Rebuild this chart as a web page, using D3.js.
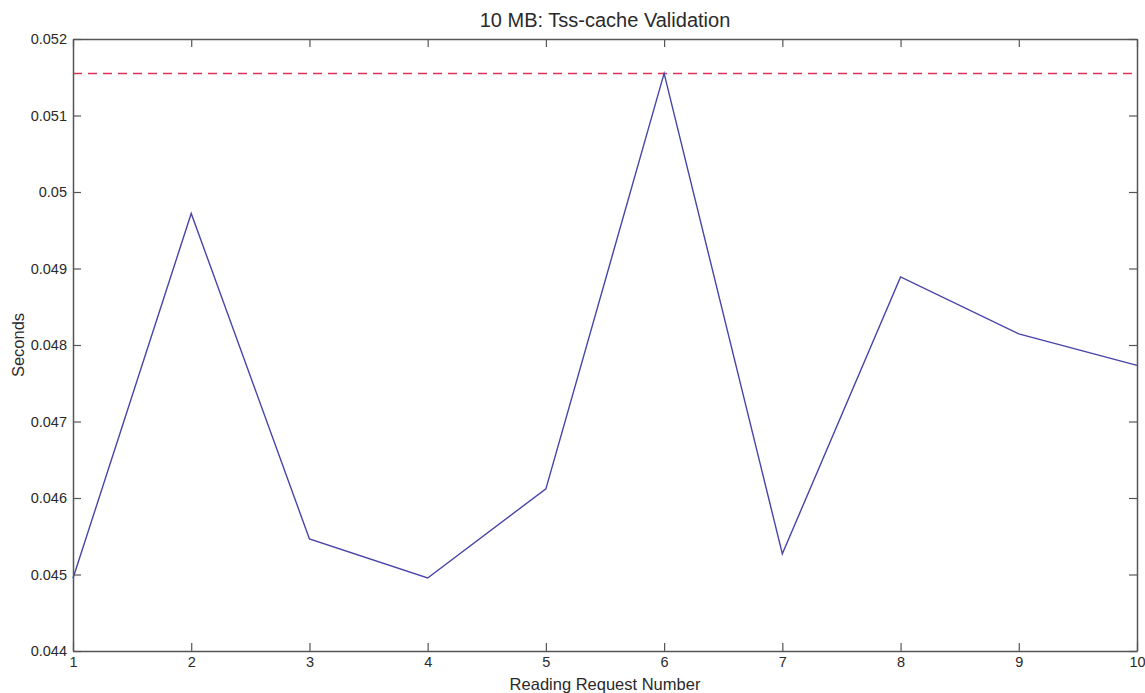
<!DOCTYPE html>
<html><head><meta charset="utf-8">
<script src="https://cdn.jsdelivr.net/npm/d3@7"></script>
<style>body{margin:0;background:#fff}svg{display:block}text{font-family:"Liberation Sans",Arial,sans-serif;fill:#2a2a2a}</style>
</head><body>
<script>
const requests = [1,2,3,4,5,6,7,8,9,10];
const seconds = [0.04495,0.04972,0.045465,0.044955,0.04612,0.05155,0.04527,0.04889,0.048145,0.047734];
const threshold = 0.05155;
const xTicks = [1,2,3,4,5,6,7,8,9,10];
const yTicks = [0.044,0.045,0.046,0.047,0.048,0.049,0.05,0.051,0.052];
const yTickLabels = ["0.044","0.045","0.046","0.047","0.048","0.049","0.05","0.051","0.052"];

const W=1145,H=693;
const m={l:73,r:8,t:39,b:42};
const svg=d3.select("body").append("svg").attr("width",W).attr("height",H);
const x=d3.scaleLinear().domain([1,10]).range([m.l,W-m.r]);
const y=d3.scaleLinear().domain([0.044,0.052]).range([H-m.b,m.t]);
const axc="#555";

svg.append("line").attr("x1",x(1)).attr("x2",x(10)).attr("y1",y(threshold)).attr("y2",y(threshold))
  .attr("stroke","#e0305a").attr("stroke-width",1.5).attr("stroke-dasharray","9,6");

svg.append("path").datum(requests.map((r,i)=>[r,seconds[i]]))
  .attr("d",d3.line().x(d=>x(d[0])).y(d=>y(d[1])))
  .attr("fill","none").attr("stroke","#4844a8").attr("stroke-width",1.4);

const tl=8;
function styleAxis(g){g.select(".domain").attr("stroke",axc).attr("stroke-width",1.5);g.selectAll(".tick line").attr("stroke",axc).attr("stroke-width",1.2);g.selectAll("text").attr("font-size",14.5).style("font-family","'Liberation Sans',Arial,sans-serif").attr("fill","#2a2a2a");}
const gBottom=svg.append("g").attr("transform",`translate(0,${y(0.044)})`)
  .call(d3.axisBottom(x).tickValues(xTicks).tickFormat(d3.format("d")).tickSizeInner(-tl).tickSizeOuter(0).tickPadding(6));
styleAxis(gBottom);
const gTop=svg.append("g").attr("transform",`translate(0,${y(0.052)})`)
  .call(d3.axisTop(x).tickValues(xTicks).tickFormat("").tickSizeInner(-tl).tickSizeOuter(0));
styleAxis(gTop);
const gLeft=svg.append("g").attr("transform",`translate(${x(1)},0)`)
  .call(d3.axisLeft(y).tickValues(yTicks).tickFormat((d,i)=>yTickLabels[i]).tickSizeInner(-tl).tickSizeOuter(0).tickPadding(6));
styleAxis(gLeft);
const gRight=svg.append("g").attr("transform",`translate(${x(10)},0)`)
  .call(d3.axisRight(y).tickValues(yTicks).tickFormat("").tickSizeInner(-tl).tickSizeOuter(0));
styleAxis(gRight);
svg.append("text").attr("x",(x(1)+x(10))/2).attr("y",27).attr("text-anchor","middle").attr("font-size",20).text("10 MB: Tss-cache Validation");
svg.append("text").attr("x",(x(1)+x(10))/2).attr("y",690).attr("text-anchor","middle").attr("font-size",16.5).text("Reading Request Number");
svg.append("text").attr("transform",`translate(24,${(y(0.044)+y(0.052))/2}) rotate(-90)`).attr("text-anchor","middle").attr("font-size",16.5).text("Seconds");
</script>
</body></html>
